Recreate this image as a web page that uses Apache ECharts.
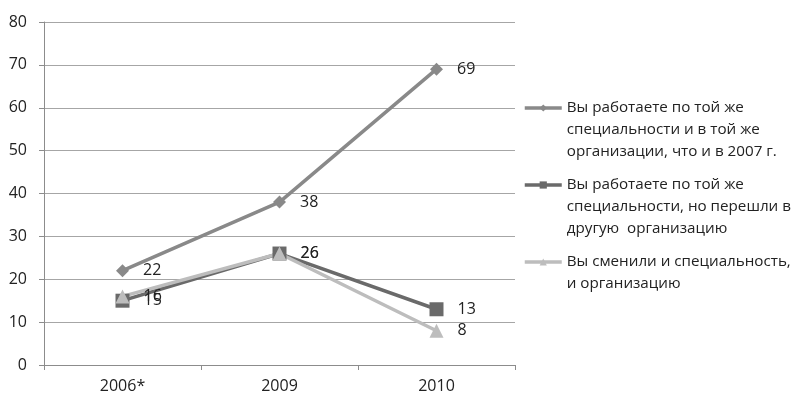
<!DOCTYPE html>
<html>
<head>
<meta charset="utf-8">
<script src="https://cdn.jsdelivr.net/npm/echarts@6/dist/echarts.min.js"></script>
<style>
  html, body { margin: 0; padding: 0; background: #fff; }
  #chart { width: 795px; height: 396px; }
</style>
</head>
<body>
<div id="chart"></div>
<script>
// Survey answers by year, percent
const years = ['2006*', '2009', '2010'];
const sameJobSameOrg = [22, 38, 69];
const sameJobNewOrg = [15, 26, 13];
const changedBoth = [16, 26, 8];
const seriesNames = [
  'Вы работаете по той же\nспециальности и в той же\nорганизации, что и в 2007 г.',
  'Вы работаете по той же\nспециальности, но перешли в\nдругую  организацию',
  'Вы сменили и специальность,\nи организацию'
];
const yTicks = { min: 0, max: 80, interval: 10 };

const FONT = '"Open Sans", "Noto Sans", sans-serif';
const LINE_H = 22;
// vertical centre of the first text line of each legend entry
const legendFirstLineY = [108, 185, 262];

function lineSeries(name, data, color, symbol, size) {
  return {
    name: name,
    type: 'line',
    data: data,
    symbol: symbol,
    symbolSize: size,
    showAllSymbol: true,
    lineStyle: { color: color, width: 3.5 },
    itemStyle: { color: color },
    label: {
      show: true,
      position: 'right',
      distance: 14,
      color: '#222',
      fontFamily: FONT,
      fontSize: 16
    },
    emphasis: { disabled: true },
    animation: false
  };
}

// One legend per entry; blank lines above the text keep the icon
// level with the first line of the (vertically centred) text block.
function legendFor(name, i) {
  const lines = name.split('\n').length;
  const pad = lines - 1;
  const total = lines + pad;
  return {
    orient: 'vertical',
    left: 523,
    top: legendFirstLineY[i] - (total * LINE_H) / 2,
    itemWidth: 37,
    itemHeight: 9,
    itemGap: 0,
    padding: 0,
    selectedMode: false,
    data: [name],
    lineStyle: { width: 3.5 },
    formatter: function (n) { return '\n'.repeat(pad) + n; },
    textStyle: {
      fontFamily: FONT,
      fontSize: 15.2,
      lineHeight: LINE_H,
      color: '#222'
    }
  };
}

const chart = echarts.init(document.getElementById('chart'), null, { renderer: 'canvas' });
chart.setOption({
  backgroundColor: '#fff',
  animation: false,
  grid: { left: 44, right: 280, top: 22, bottom: 31, containLabel: false },
  legend: seriesNames.map(legendFor),
  xAxis: {
    type: 'category',
    data: years,
    boundaryGap: true,
    axisLine: { lineStyle: { color: '#8c8c8c', width: 1 } },
    axisTick: { show: true, length: 5, alignWithLabel: false, lineStyle: { color: '#8c8c8c' } },
    axisLabel: { color: '#222', fontFamily: FONT, fontSize: 16, margin: 13 },
    splitLine: { show: false }
  },
  yAxis: {
    type: 'value',
    min: yTicks.min,
    max: yTicks.max,
    interval: yTicks.interval,
    axisLine: { show: true, lineStyle: { color: '#8c8c8c', width: 1 } },
    axisTick: { show: true, length: 5, inside: false, lineStyle: { color: '#8c8c8c' } },
    axisLabel: { color: '#222', fontFamily: FONT, fontSize: 16, margin: 17 },
    splitLine: { show: true, lineStyle: { color: '#a6a6a6', width: 1 } }
  },
  series: [
    lineSeries(seriesNames[0], sameJobSameOrg, '#898989', 'diamond', 13),
    lineSeries(seriesNames[1], sameJobNewOrg, '#6a6a6a', 'rect', 14),
    lineSeries(seriesNames[2], changedBoth, '#bdbdbd', 'triangle', 14)
  ]
});
</script>
</body>
</html>
